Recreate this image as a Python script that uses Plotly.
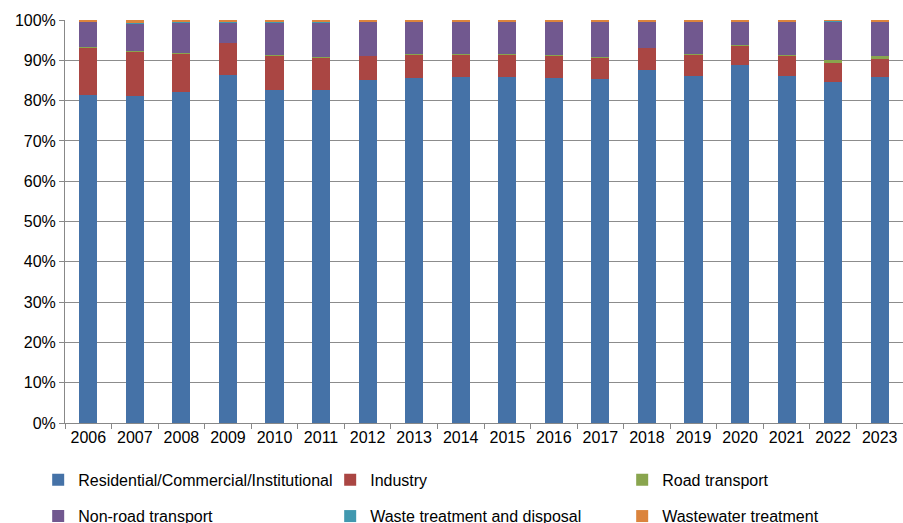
import plotly.graph_objects as go

years = [str(y) for y in range(2006, 2024)]

# shares (%)
residential = [81.3, 81.1, 82.1, 86.3, 82.7, 82.7, 85.1, 85.7, 85.9, 85.9, 85.7, 85.5, 87.7, 86.1, 88.9, 86.1, 84.7, 85.9]
industry    = [11.9, 11.2, 9.7, 8.0, 8.6, 8.0, 6.1, 5.9, 5.7, 5.7, 5.6, 5.4, 5.5, 5.5, 4.8, 5.1, 5.0, 4.4]
road        = [0.05, 0.05, 0.05, 0.05, 0.05, 0.05, 0.05, 0.05, 0.05, 0.05, 0.05, 0.05, 0.05, 0.05, 0.25, 0.25, 0.4, 0.7]
nonroad     = [6.4, 6.9, 7.6, 5.1, 8.1, 8.7, 8.4, 8.0, 8.1, 8.1, 8.4, 8.7, 6.5, 8.1, 5.8, 8.3, 9.8, 8.7]
waste       = [0.05] * 18
wastewater  = [0.3, 0.7, 0.5, 0.5, 0.5, 0.5, 0.4, 0.4, 0.3, 0.3, 0.3, 0.4, 0.3, 0.3, 0.3, 0.3, 0.2, 0.3]

series = [
    ("Residential/Commercial/Institutional", residential, "#4572A7", "legend"),
    ("Industry", industry, "#AA4643", "legend"),
    ("Road transport", road, "#89A54E", "legend"),
    ("Non-road transport", nonroad, "#71588F", "legend2"),
    ("Waste treatment and disposal", waste, "#4198AF", "legend2"),
    ("Wastewater treatment", wastewater, "#DB843D", "legend2"),
]

fig = go.Figure()
for name, vals, col, leg in series:
    fig.add_trace(go.Bar(x=years, y=vals, name=name, marker_color=col,
                         marker_line_width=0, legend=leg))

font = "Liberation Sans, Arial, sans-serif"
legcommon = dict(orientation="h", x=-0.032, xanchor="left", yanchor="top",
                 entrywidth=247, entrywidthmode="pixels", itemwidth=30,
                 font=dict(family=font, size=16, color="#000000"),
                 traceorder="normal", bgcolor="rgba(0,0,0,0)")
fig.update_layout(
    barmode="stack",
    barnorm="percent",
    bargap=0.61,
    width=903, height=523,
    margin=dict(l=65, r=0, t=20, b=100, autoexpand=False),
    plot_bgcolor="white", paper_bgcolor="white",
    font=dict(family=font, size=16, color="#000000"),
    showlegend=True,
    legend=dict(y=-0.099, **legcommon),
    legend2=dict(y=-0.189, **legcommon),
    xaxis=dict(type="category", showline=True, linecolor="#888888", linewidth=1,
               ticks="outside", tickson="boundaries", ticklen=5, tickcolor="#888888",
               showgrid=False, tickfont=dict(size=16)),
    yaxis=dict(range=[0, 100], dtick=10, ticksuffix="%", showline=True,
               linecolor="#888888", linewidth=1, ticks="outside", ticklen=5,
               tickcolor="#888888", showgrid=True, gridcolor="#8c8c8c", gridwidth=1,
               zeroline=False, tickfont=dict(size=16)),
)

fig.write_html("out.html")
